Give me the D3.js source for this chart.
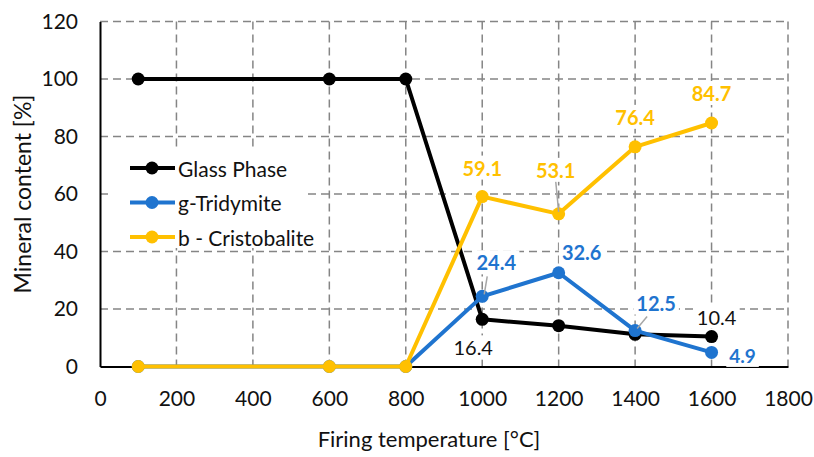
<!DOCTYPE html>
<html>
<head>
<meta charset="utf-8">
<script src="https://cdn.jsdelivr.net/npm/d3@7"></script>
<style>
  body { margin: 0; background: white; }
  text { font-family: Lato, "Open Sans", sans-serif; }
</style>
</head>
<body>
<svg id="chart" width="814" height="457"></svg>
<script>
// data
var temps = [100, 600, 800, 1000, 1200, 1400, 1600];
var glassPhase = [100, 100, 100, 16.4, 14.2, 11.2, 10.4];
var tridymite = [0, 0, 0, 24.4, 32.6, 12.5, 4.9];
var cristobalite = [0, 0, 0, 59.1, 53.1, 76.4, 84.7];
var seriesNames = ["Glass Phase", "g-Tridymite", "b - Cristobalite"];
var xTicks = [0, 200, 400, 600, 800, 1000, 1200, 1400, 1600, 1800];
var yTicks = [0, 20, 40, 60, 80, 100, 120];

var colors = ["#000000", "#1f74cf", "#ffc000"],
    lineWidth = 4,
    markerR = 6.5;

var svg = d3.select("#chart");

var x = d3.scaleLinear().domain([0, 1800]).range([100, 788]);
var y = d3.scaleLinear().domain([0, 120]).range([366.5, 21.5]);

// grid
var grid = svg.append("g")
    .attr("stroke", "#858585")
    .attr("stroke-width", 1.5)
    .attr("stroke-dasharray", "8,5");
grid.selectAll(".hg").data(yTicks.slice(1)).enter()
    .append("line")
    .attr("x1", x(0)).attr("x2", x(1800))
    .attr("y1", function(d) { return y(d); })
    .attr("y2", function(d) { return y(d); });
grid.selectAll(".vg").data(xTicks.slice(1)).enter()
    .append("line")
    .attr("y1", y(120)).attr("y2", y(0))
    .attr("x1", function(d) { return x(d); })
    .attr("x2", function(d) { return x(d); });

// axes
var xAxis = svg.append("g")
    .attr("transform", "translate(0," + y(0) + ")")
    .call(d3.axisBottom(x).tickValues(xTicks).tickFormat(d3.format("d"))
          .tickSize(0).tickPadding(25));
var yAxis = svg.append("g")
    .attr("transform", "translate(" + x(0) + ",0)")
    .call(d3.axisLeft(y).tickValues(yTicks).tickSize(0).tickPadding(22));
[xAxis, yAxis].forEach(function(a) {
  a.select(".domain").attr("stroke", "#000").attr("stroke-width", 2);
  a.selectAll("text").attr("font-size", 21).attr("fill", "#111")
   .attr("font-family", "Lato, sans-serif");
});

svg.append("text")
    .attr("x", 429).attr("y", 447)
    .attr("text-anchor", "middle")
    .attr("font-size", 22)
    .attr("fill", "#111")
    .text("Firing temperature [°C]");
svg.append("text")
    .attr("transform", "translate(31,194) rotate(-90)")
    .attr("text-anchor", "middle")
    .attr("font-size", 23)
    .attr("fill", "#111")
    .text("Mineral content [%]");

// series
var allSeries = [glassPhase, tridymite, cristobalite];
var line = d3.line()
    .x(function(d, i) { return x(temps[i]); })
    .y(function(d) { return y(d); });

allSeries.forEach(function(vals, s) {
  var g = svg.append("g");
  g.append("path")
   .attr("d", line(vals))
   .attr("fill", "none")
   .attr("stroke", colors[s])
   .attr("stroke-width", lineWidth)
   .attr("stroke-linejoin", "round");
  g.selectAll("circle").data(vals).enter()
   .append("circle")
   .attr("cx", function(d, i) { return x(temps[i]); })
   .attr("cy", function(d) { return y(d); })
   .attr("r", markerR)
   .attr("fill", colors[s]);
});

// data labels: [series, point index, dx, dy, leader?]
var labels = [
  [0, 3, -9, 28, false],
  [0, 6, 5, -20, false],
  [1, 3, 14, -34, true],
  [1, 4, 23, -21, false],
  [1, 5, 21, -28, true],
  [1, 6, 31, 3, false],
  [2, 3, 0, -29, false],
  [2, 4, -3, -44, true],
  [2, 5, 0, -30, false],
  [2, 6, 0, -30, false]
];

var lab = svg.append("g");
labels.forEach(function(l) {
  var s = l[0], i = l[1];
  var val = allSeries[s][i];
  var txt = (s == 0 && i == 3) ? "16.4" : val.toFixed(1);
  var px = x(temps[i]), py = y(val);
  var lx = px + l[2], ly = py + l[3];
  var bold = s != 0;
  var fs = (s == 1 && i == 6) ? 19 : 20;
  if (l[4]) {
    var ex = lx, ey = ly + 11;
    if (s == 1) { ex = lx - 9; ey = ly + 14; }
    lab.append("line")
       .attr("x1", px + (s == 1 ? 2 : 0)).attr("y1", py - 2)
       .attr("x2", ex).attr("y2", ey)
       .attr("stroke", "#a6a6a6").attr("stroke-width", 1.5);
  }
  var t = lab.append("text")
     .attr("x", lx).attr("y", ly)
     .attr("text-anchor", "middle")
     .attr("dominant-baseline", "central")
     .attr("font-size", fs)
     .attr("font-weight", bold ? "bold" : "normal")
     .attr("fill", s == 0 ? "#111" : colors[s])
     .text(txt);
  var bb = t.node().getBBox();
  lab.insert("rect", function() { return t.node(); })
     .attr("x", bb.x - 3).attr("y", bb.y)
     .attr("width", bb.width + 6).attr("height", bb.height)
     .attr("fill", "white");
});

// legend
var legend = svg.append("g");
legend.append("rect")
    .attr("x", 112).attr("y", 150)
    .attr("width", 196).attr("height", 98)
    .attr("fill", "white");
seriesNames.forEach(function(name, s) {
  var ly = 168 + s * 34.5;
  legend.append("line")
      .attr("x1", 130).attr("x2", 175)
      .attr("y1", ly).attr("y2", ly)
      .attr("stroke", colors[s]).attr("stroke-width", lineWidth);
  legend.append("circle")
      .attr("cx", 152).attr("cy", ly).attr("r", markerR)
      .attr("fill", colors[s]);
  legend.append("text")
      .attr("x", 178).attr("y", ly)
      .attr("dominant-baseline", "central")
      .attr("font-size", 21)
      .attr("fill", "#111")
      .text(name);
});
</script>
</body>
</html>
